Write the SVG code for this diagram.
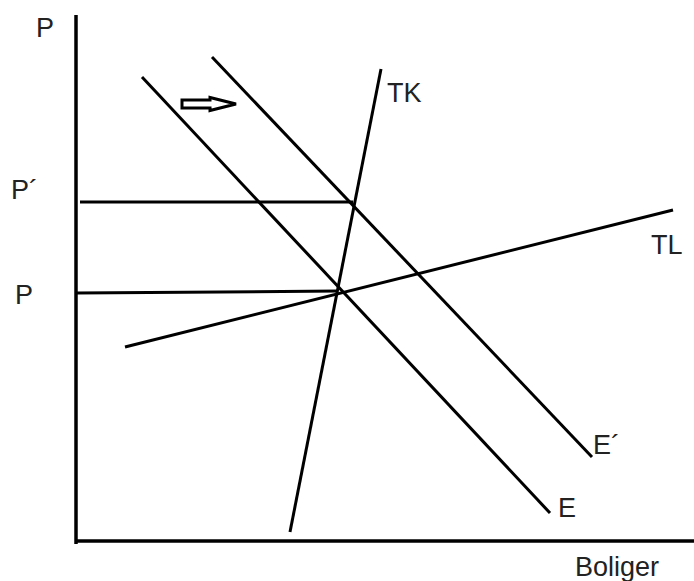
<svg xmlns="http://www.w3.org/2000/svg" width="694" height="581" viewBox="0 0 694 581">
<style>
.ax{stroke:#000;stroke-width:3.5;fill:none}
.ln{stroke:#000;stroke-width:3;fill:none;stroke-linecap:butt}
text{font-family:"Liberation Sans",Arial,sans-serif;font-size:27px;fill:#222}
</style>
<rect width="694" height="581" fill="#fff"/>
<g id="axes">
<line class="ax" x1="76" y1="15" x2="76" y2="544"/>
<line class="ax" x1="76" y1="541" x2="694" y2="541"/>
</g>
<g id="connectors">
<line class="ln" x1="80" y1="202" x2="353" y2="202"/>
<line class="ln" x1="77" y1="293" x2="338" y2="291"/>
</g>
<g id="TK"><line class="ln" x1="290" y1="532" x2="381" y2="69"/><text x="387" y="102">TK</text></g>
<g id="TL"><line class="ln" x1="125" y1="347" x2="673" y2="210"/><text x="651" y="254">TL</text></g>
<g id="E"><line class="ln" x1="142" y1="77" x2="550" y2="513"/><text x="558" y="517">E</text></g>
<g id="E2"><line class="ln" x1="212" y1="57" x2="592" y2="457"/><text x="593" y="454">E´</text></g>
<g id="shift"><polygon points="182,100 210,100 210,97.5 236,104 210,110.5 210,108 182,108" fill="#fff" stroke="#000" stroke-width="3" stroke-linejoin="miter"/></g>
<g id="labels">
<text x="36" y="37">P</text>
<text x="11" y="199">P´</text>
<text x="15" y="304">P</text>
<text x="575" y="576">Boliger</text>
</g>
</svg>
